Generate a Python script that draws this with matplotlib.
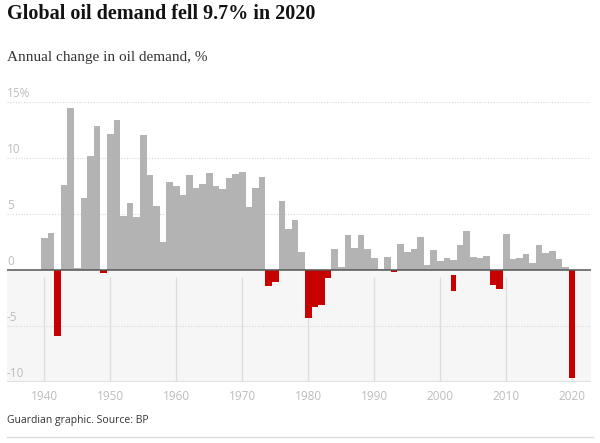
import numpy as np
import matplotlib
matplotlib.use("Agg")
from matplotlib import pyplot as plt

# annual change in global oil demand, %
years = list(range(1940, 2021))
change = [2.86, 3.27, -5.86, 7.56, 14.43, 0.18, 6.4, 10.15, 12.86, -0.27,
          12.17, 13.36, 4.79, 5.98, 4.7, 12.08, 8.48, 5.68, 2.5, 7.86,
          7.5, 6.7, 8.48, 7.3, 7.68, 8.66, 7.47, 7.2, 8.18, 8.57,
          8.78, 5.6, 7.3, 8.27, -1.4, -1.07, 6.19, 3.69, 4.49, 1.58,
          -4.26, -3.27, -3.1, -0.68, 1.87, 0.3, 3.1, 2.0, 3.1, 1.87,
          1.1, 0.05, 1.19, -0.18, 2.29, 1.58, 1.87, 2.98, 0.42, 1.79,
          0.77, 1.1, 0.9, 2.2, 3.45, 1.19, 1.1, 1.28, -1.31, -1.7,
          3.18, 0.98, 1.1, 1.4, 0.6, 2.2, 1.49, 1.7, 0.98, 0.3,
          -9.64]

# the odd detached red bar in 2002
float_years = [2002]
float_top = [-0.42]
float_bottom = [-1.85]

yticks = [15, 10, 5, 0, -5, -10]
ytick_labels = ["15%", "10", "5", "0", "-5", "-10"]
xticks = list(range(1940, 2021, 10))

GREY = "#b3b3b3"
RED = "#c70000"

fig = plt.figure(figsize=(6, 4.43), dpi=100)
ax = fig.add_axes([7 / 600, 1 - 382 / 443, 584 / 600, 280 / 443])
ax.set_xlim(1934.35, 2022.85)
ax.set_ylim(-10, 15)

# shaded negative zone + grid
ax.axhspan(-10, 0, color="#f6f6f6", zorder=0, lw=0)
for v in yticks:
    if v in (0, -10):
        continue
    ax.axhline(v, color="#d8d8d8", lw=0.8, ls=(0, (1, 1.5)), zorder=1)
ax.axhline(-10, color="#dcdcdc", lw=1.2, zorder=1)
ax.vlines(xticks, -10, -0.6, color="#dddddd", lw=1, zorder=1)

vals = np.array(change)
colors = [RED if v < 0 else GREY for v in vals]
ax.bar(years, vals, width=1.0, color=colors, lw=0, zorder=2)
ax.bar(float_years, np.array(float_bottom) - np.array(float_top), bottom=float_top,
       width=0.75, color=RED, lw=0, zorder=2)

ax.axhline(0, color="#555555", lw=1.1, zorder=3)

for v, lab in zip(yticks, ytick_labels):
    ax.annotate(lab, xy=(0, v), xycoords=("axes fraction", "data"),
                xytext=(0, 1.5), textcoords="offset points",
                ha="left", va="bottom", fontsize=8.5, color="#bdbdbd",
                family="Open Sans")

ax.set_yticks([])
ax.set_xticks(xticks)
ax.set_xticklabels([str(x) for x in xticks], fontsize=8.5, color="#bdbdbd",
                   family="Open Sans")
ax.tick_params(axis="x", length=0, pad=6)
for s in ax.spines.values():
    s.set_visible(False)

fig.text(7 / 600, 1 - 14 / 443, "Global oil demand fell 9.7% in 2020",
         fontsize=14.5, fontweight="bold", family="Liberation Serif",
         color="#121212", ha="left", va="center")
fig.text(7 / 600, 1 - 57 / 443, "Annual change in oil demand, %",
         fontsize=11, family="Liberation Serif", color="#333333",
         ha="left", va="center")
fig.text(7 / 600, 1 - 421 / 443, "Guardian graphic. Source: BP",
         fontsize=7.5, family="Open Sans", color="#333333",
         ha="left", va="center")
fig.add_artist(plt.Line2D([7 / 600, 593 / 600], [1 - 437 / 443, 1 - 437 / 443],
                          color="#dcdcdc", lw=1))

fig.savefig("out.png", dpi=100)
